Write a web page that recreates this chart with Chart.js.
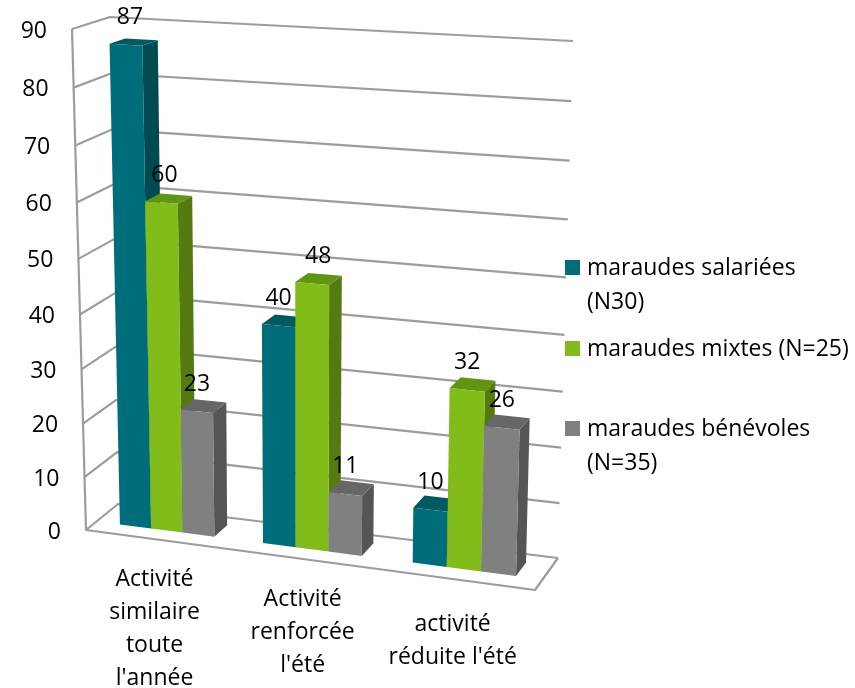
<!DOCTYPE html>
<html lang="fr">
<head>
<meta charset="utf-8">
<title>Maraudes</title>
<script src="https://cdn.jsdelivr.net/npm/chart.js@4"></script>
<style>
  html, body { margin: 0; background: #fff; }
  #wrap { position: relative; width: 855px; height: 688px; }
</style>
</head>
<body>
<div id="wrap"><canvas id="chart"></canvas></div>
<script>
// ── Data ──────────────────────────────────────────────────
const categories = [
  ['Activité', 'similaire', 'toute', "l'année"],
  ['Activité', 'renforcée', "l'été"],
  ['activité', "réduite l'été"],
];
const salariees  = [87, 40, 10];
const mixtes     = [60, 48, 32];
const benevoles  = [23, 11, 26];
const seriesNames = ['maraudes salariées (N30)', 'maraudes mixtes (N=25)', 'maraudes bénévoles (N=35)'];
const yMax  = 90;
const yStep = 10;

// ── Look ──────────────────────────────────────────────────
const FONT   = '"Open Sans", sans-serif';
const GRID   = '#9c9c9c';
const FACES  = [
  { front: '#006e7a', top: '#005a64', side: '#004a52' },
  { front: '#82bc1a', top: '#629414', side: '#557a10' },
  { front: '#808080', top: '#666666', side: '#555555' },
];

// Room corners on screen [x, y]: front plane and back wall, counter-clockwise from bottom left
const FRONT_QUAD = [[86, 530], [535, 590], [549, 54], [72, 29]];
const BACK_QUAD  = [[118, 504], [558, 558], [573, 41], [110, 17]];
const BAR_Z = [0.33, 0.75];   // bar depth inside the room

// hand-placed labels in the original sit a little off centre
const VALUE_NUDGE = [[4, 0, 0], [3, 6, 0], [0, 0, 0]];
const CATEGORY_NUDGE = [[-2, 0], [0, 1], [-3, 5]];

// Unit square -> quad
function homography(q) {
  const [[x0, y0], [x1, y1], [x2, y2], [x3, y3]] = q;
  const dx1 = x1 - x2, dx2 = x3 - x2, sx = x0 - x1 + x2 - x3;
  const dy1 = y1 - y2, dy2 = y3 - y2, sy = y0 - y1 + y2 - y3;
  const d = dx1 * dy2 - dx2 * dy1;
  const g = (sx * dy2 - dx2 * sy) / d;
  const h = (dx1 * sy - sx * dy1) / d;
  return (u, v) => {
    const w = g * u + h * v + 1;
    return [
      ((x1 - x0 + g * x1) * u + (x3 - x0 + h * x3) * v + x0) / w,
      ((y1 - y0 + g * y1) * u + (y3 - y0 + h * y3) * v + y0) / w,
    ];
  };
}
const frontH = homography(FRONT_QUAD);
const backH  = homography(BACK_QUAD);

// u across the floor, v up the wall, z from front (0) to back (1)
function project(u, v, z) {
  const f = frontH(u, v), b = backH(u, v);
  return [f[0] + (b[0] - f[0]) * z, f[1] + (b[1] - f[1]) * z];
}

function poly(ctx, pts, fill) {
  ctx.beginPath();
  pts.forEach((p, i) => i ? ctx.lineTo(p[0], p[1]) : ctx.moveTo(p[0], p[1]));
  ctx.closePath();
  ctx.fillStyle = fill;
  ctx.fill();
}

function line(ctx, pts) {
  ctx.beginPath();
  pts.forEach((p, i) => i ? ctx.lineTo(p[0], p[1]) : ctx.moveTo(p[0], p[1]));
  ctx.stroke();
}

function text(ctx, str, x, y, align) {
  ctx.textAlign = align;
  ctx.textBaseline = 'middle';
  ctx.fillText(str, x, y);
}

// ── Plugin: redraws scales and bars through the perspective ───
const room3d = {
  id: 'room3d',

  beforeDatasetsDraw(chart) {
    const { ctx, scales: { y } } = chart;
    ctx.save();
    ctx.strokeStyle = GRID;
    ctx.lineWidth = 2.2;
    ctx.lineJoin = 'round';

    y.ticks.forEach(t => {
      const v = t.value / yMax;
      line(ctx, [project(0, v, 0), project(0, v, 1), project(1, v, 1)]);
    });
    line(ctx, [project(0, 1, 0), project(0, 0, 0), project(1, 0, 0), project(1, 0, 1)]);

    ctx.fillStyle = '#000';
    ctx.font = `23px ${FONT}`;
    y.ticks.forEach(t => {
      const p = project(0, t.value / yMax, 0);
      text(ctx, String(t.value), p[0] - 25, p[1] + 2, 'right');
    });
    ctx.restore();
  },

  // native flat bars are replaced by the ones below
  beforeDatasetDraw() { return false; },

  afterDatasetsDraw(chart) {
    const { ctx, chartArea: a, data, scales: { x } } = chart;
    const toU = px => (px - a.left) / (a.right - a.left);
    const toV = py => (a.bottom - py) / (a.bottom - a.top);
    const [zf, zb] = BAR_Z;
    ctx.save();

    // left to right so each bar covers the side of its neighbour
    const labels = [];
    data.labels.forEach((_, i) => {
      data.datasets.forEach((ds, d) => {
        const el = chart.getDatasetMeta(d).data[i];
        const u0 = toU(el.x - el.width / 2), u1 = toU(el.x + el.width / 2);
        const v0 = toV(el.base), v1 = toV(el.y);
        const c = FACES[d];
        poly(ctx, [project(u1, v0, zf), project(u1, v0, zb), project(u1, v1, zb), project(u1, v1, zf)], c.side);
        poly(ctx, [project(u0, v1, zf), project(u1, v1, zf), project(u1, v1, zb), project(u0, v1, zb)], c.top);
        poly(ctx, [project(u0, v0, zf), project(u1, v0, zf), project(u1, v1, zf), project(u0, v1, zf)], c.front);
        const top = project((u0 + u1) / 2, v1, zf);
        labels.push([ds.data[i], top[0] + VALUE_NUDGE[d][i], top[1] - 27]);
      });
    });

    ctx.fillStyle = '#000';
    ctx.font = `23px ${FONT}`;
    labels.forEach(l => text(ctx, String(l[0]), l[1], l[2], 'center'));

    // category labels hang from the front edge of the floor
    categories.forEach((lines, i) => {
      const p = project(toU(x.getPixelForTick(i)), 0, 0);
      const [nx, ny] = CATEGORY_NUDGE[i];
      lines.forEach((str, j) => text(ctx, str, p[0] + nx, p[1] + ny + 40 + j * 33, 'center'));
    });

    // legend
    const rows = [
      { y: 267, lines: ['maraudes salariées', '(N30)'] },
      { y: 348, lines: ['maraudes mixtes (N=25)'] },
      { y: 428, lines: ['maraudes bénévoles', '(N=35)'] },
    ];
    rows.forEach((r, d) => {
      ctx.fillStyle = FACES[d].front;
      ctx.fillRect(565, r.y - 7, 15, 15);
      ctx.fillStyle = '#000';
      r.lines.forEach((str, j) => text(ctx, str, 587, r.y + 1 + j * 34.5, 'left'));
    });
    ctx.restore();
  },
};

// ── Chart ─────────────────────────────────────────────────
const seriesValues = [salariees, mixtes, benevoles];

new Chart(document.getElementById('chart'), {
  type: 'bar',
  data: {
    labels: categories,
    datasets: seriesValues.map((values, d) => ({
      label: seriesNames[d],
      data: values,
      backgroundColor: FACES[d].front,
      categoryPercentage: 0.665,
      barPercentage: 1,
    })),
  },
  options: {
    responsive: true,
    maintainAspectRatio: false,
    animation: false,
    plugins: { legend: { display: false }, tooltip: { enabled: false } },
    scales: {
      x: { display: false },
      y: { display: false, min: 0, max: yMax, ticks: { stepSize: yStep } },
    },
  },
  plugins: [room3d],
});
</script>
</body>
</html>
